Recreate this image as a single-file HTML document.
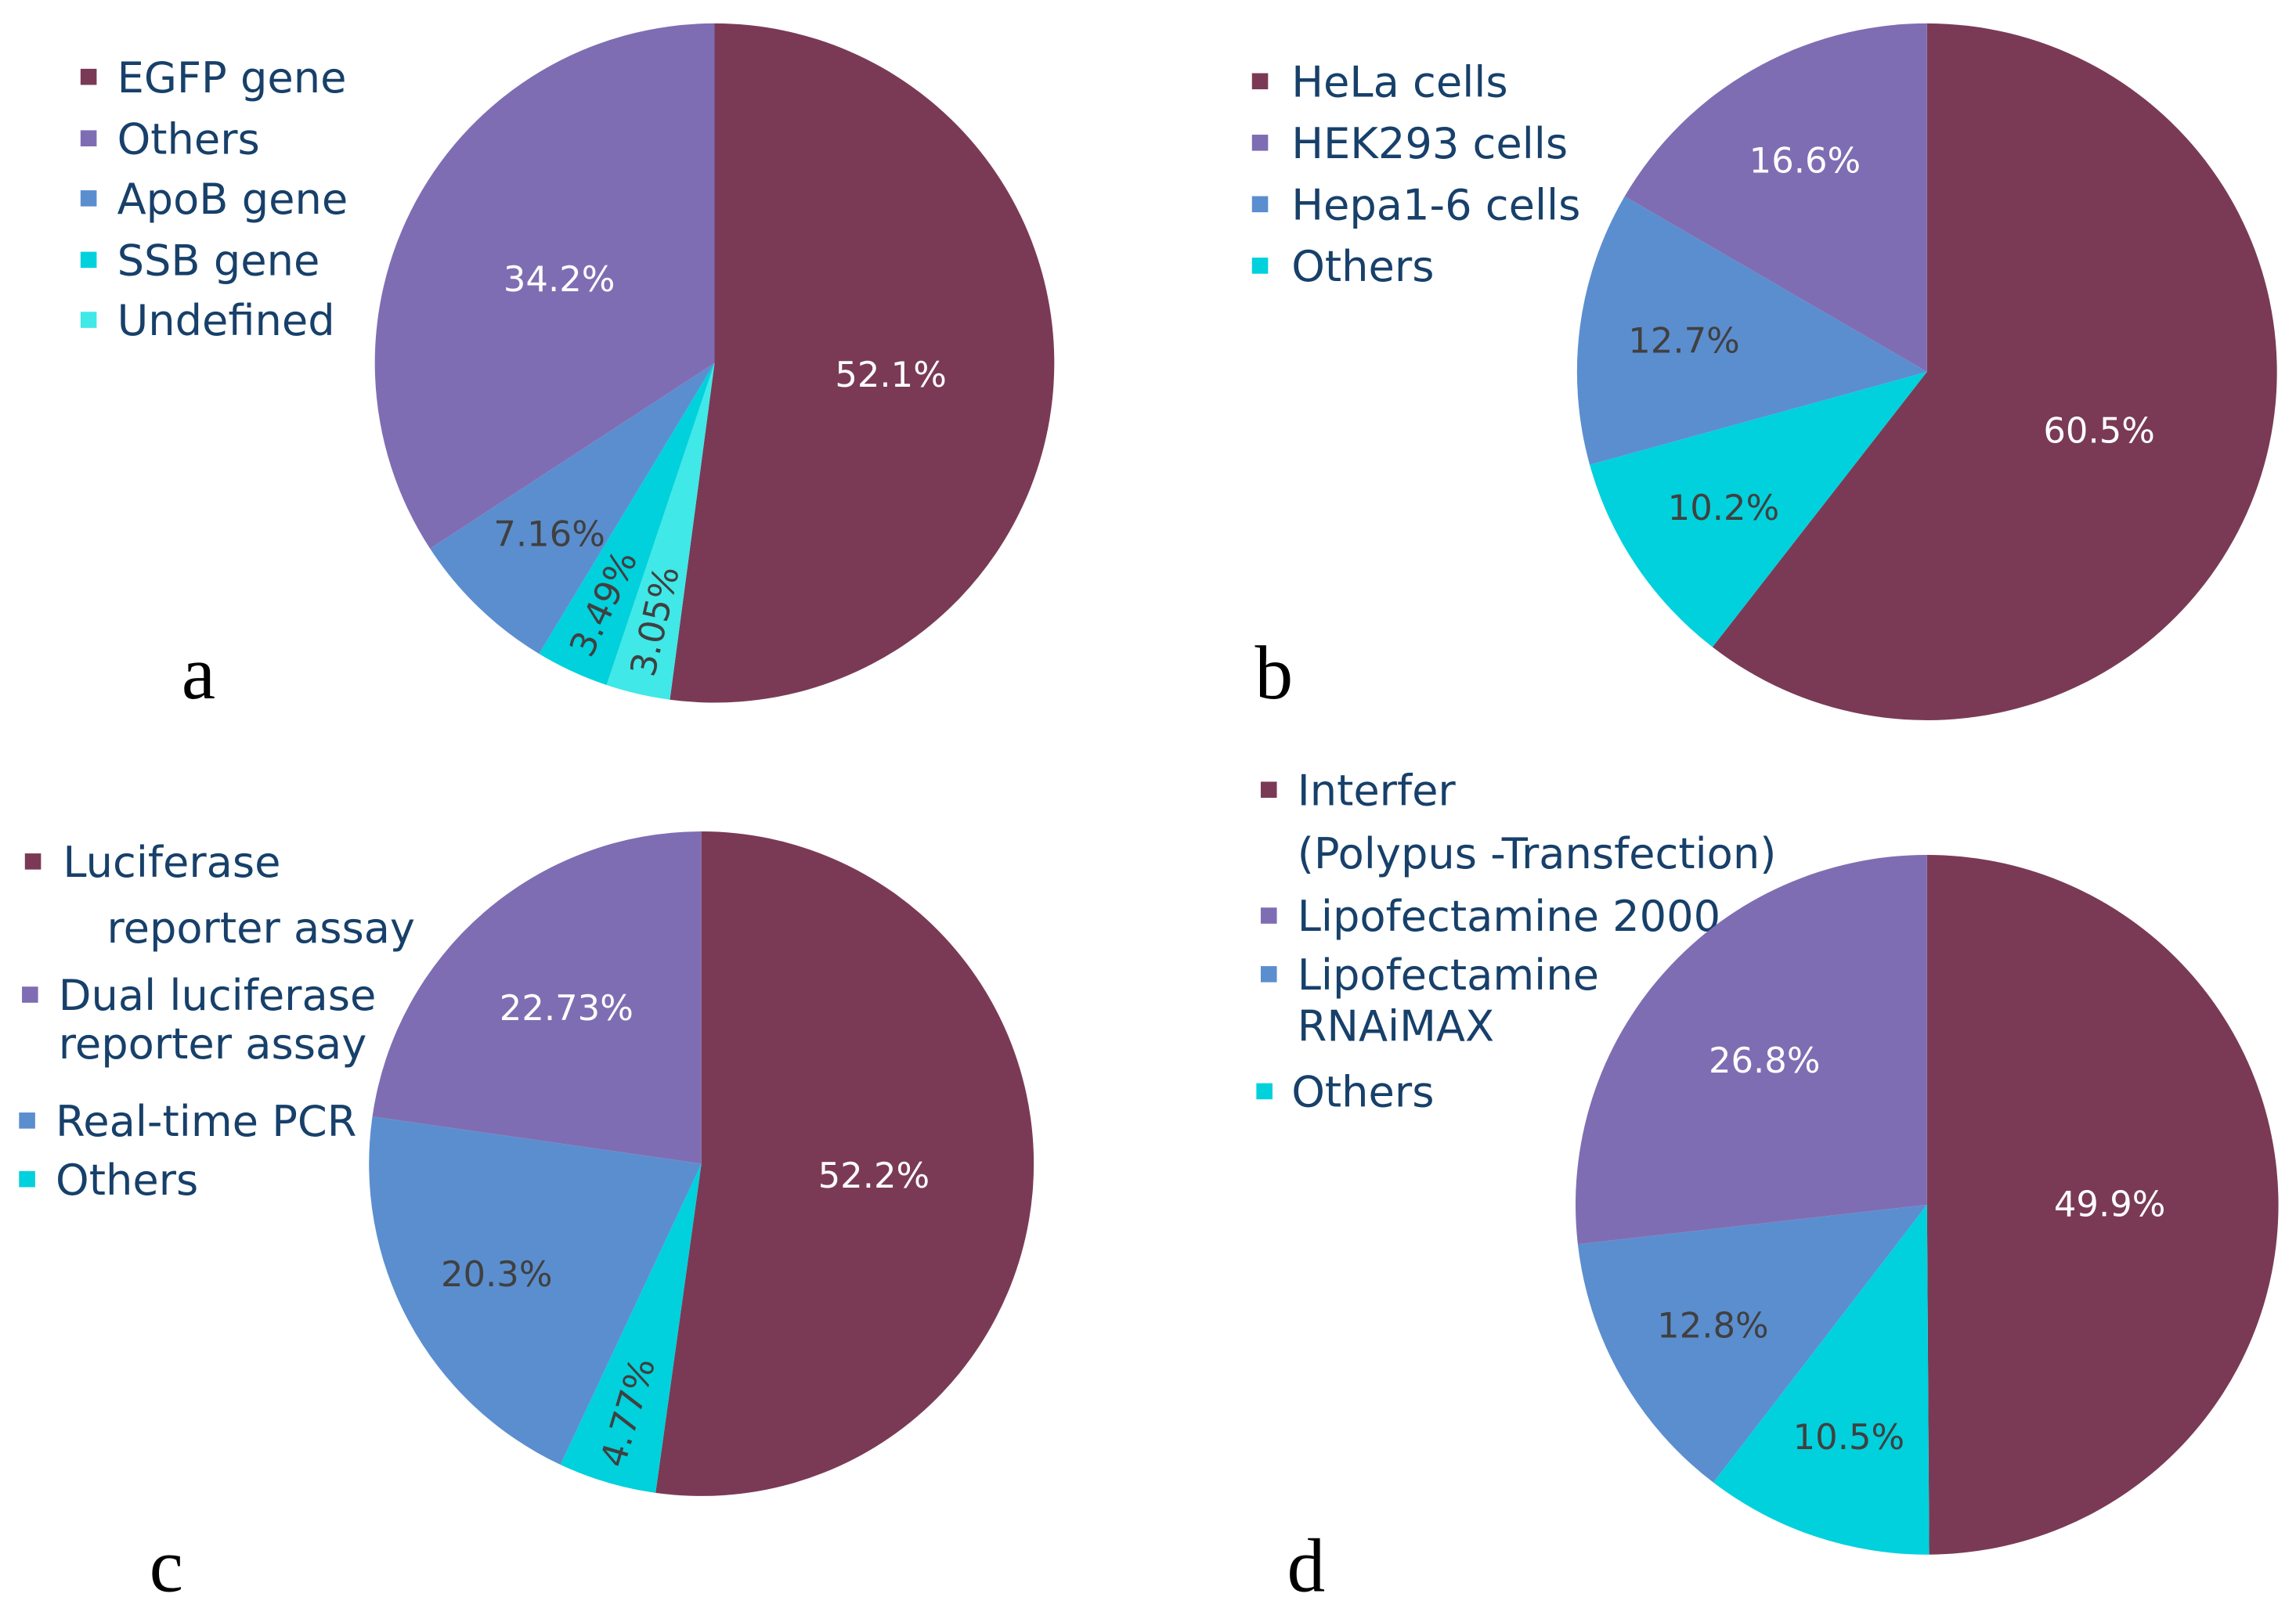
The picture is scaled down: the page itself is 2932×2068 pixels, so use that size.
<!DOCTYPE html>
<html><head><meta charset="utf-8"><style>
html,body{margin:0;padding:0;background:#fff;}
svg{display:block;}
</style></head><body>
<svg id="fig" xmlns="http://www.w3.org/2000/svg" width="2932" height="2068" viewBox="0 0 1568 1106" preserveAspectRatio="none" font-family="'DejaVu Sans', 'Liberation Sans', sans-serif">
<rect width="1568" height="1106" fill="#fff"/>
<g id="legends" fill="#17406a" font-size="29">
 <g>
  <rect x="55" y="47" width="11" height="11" fill="#7a3a55"/><text x="80" y="63">EGFP gene</text>
  <rect x="55" y="89" width="11" height="11" fill="#7f6db3"/><text x="80" y="105">Others</text>
  <rect x="55" y="130" width="11" height="11" fill="#5b8ecf"/><text x="80" y="146">ApoB gene</text>
  <rect x="55" y="172" width="11" height="11" fill="#00d1dc"/><text x="80" y="188">SSB gene</text>
  <rect x="55" y="213" width="11" height="11" fill="#40e8e8"/><text x="80" y="229">Undefined</text>
 </g>
 <g>
  <rect x="855" y="50" width="11" height="11" fill="#7a3a55"/><text x="882" y="66">HeLa cells</text>
  <rect x="855" y="92" width="11" height="11" fill="#7f6db3"/><text x="882" y="108">HEK293 cells</text>
  <rect x="855" y="134" width="11" height="11" fill="#5b8ecf"/><text x="882" y="150">Hepa1-6 cells</text>
  <rect x="855" y="176" width="11" height="11" fill="#00d1dc"/><text x="882" y="192">Others</text>
 </g>
 <g>
  <rect x="17" y="583" width="11" height="11" fill="#7a3a55"/><text x="43" y="599">Luciferase</text>
  <text x="73" y="644">reporter assay</text>
  <rect x="15" y="674" width="11" height="11" fill="#7f6db3"/><text x="40" y="690">Dual luciferase</text>
  <text x="40" y="723">reporter assay</text>
  <rect x="13" y="760" width="11" height="11" fill="#5b8ecf"/><text x="38" y="776">Real-time PCR</text>
  <rect x="13" y="800" width="11" height="11" fill="#00d1dc"/><text x="38" y="816">Others</text>
 </g>
 <g>
  <rect x="861" y="534" width="11" height="11" fill="#7a3a55"/><text x="886" y="550">Interfer</text>
  <text x="886" y="593">(Polypus -Transfection)</text>
  <rect x="861" y="620" width="11" height="11" fill="#7f6db3"/><text x="886" y="636">Lipofectamine 2000</text>
  <rect x="861" y="660" width="11" height="11" fill="#5b8ecf"/><text x="886" y="676">Lipofectamine</text>
  <text x="886" y="711">RNAiMAX</text>
  <rect x="858" y="740" width="11" height="11" fill="#00d1dc"/><text x="882" y="756">Others</text>
 </g>
</g>
<g font-family="'Liberation Serif', serif" font-size="52" fill="#000">
 <text x="124" y="477">a</text>
 <text x="857" y="477">b</text>
 <text x="102" y="1087">c</text>
 <text x="879" y="1087">d</text>
</g>
<g id="pies"></g>
</svg>
<script>
// Panel a
const aCategories = ["EGFP gene","Undefined","SSB gene","ApoB gene","Others"];
const aValues = [52.1, 3.05, 3.49, 7.16, 34.2];
const aLabels = ["52.1%","3.05%","3.49%","7.16%","34.2%"];
// Panel b
const bCategories = ["HeLa cells","Others","Hepa1-6 cells","HEK293 cells"];
const bValues = [60.5, 10.2, 12.7, 16.6];
const bLabels = ["60.5%","10.2%","12.7%","16.6%"];
// Panel c
const cCategories = ["Luciferase reporter assay","Others","Real-time PCR","Dual luciferase reporter assay"];
const cValues = [52.2, 4.77, 20.3, 22.73];
const cLabels = ["52.2%","4.77%","20.3%","22.73%"];
// Panel d
const dCategories = ["Interfer","Others","Lipofectamine RNAiMAX","Lipofectamine 2000"];
const dValues = [49.9, 10.5, 12.8, 26.8];
const dLabels = ["49.9%","10.5%","12.8%","26.8%"];

const NS = "http://www.w3.org/2000/svg";
const colorMap = {"EGFP gene":"#7a3a55","HeLa cells":"#7a3a55","Luciferase reporter assay":"#7a3a55","Interfer":"#7a3a55",
 "Others":"#7f6db3","HEK293 cells":"#7f6db3","Dual luciferase reporter assay":"#7f6db3","Lipofectamine 2000":"#7f6db3",
 "ApoB gene":"#5b8ecf","Hepa1-6 cells":"#5b8ecf","Real-time PCR":"#5b8ecf","Lipofectamine RNAiMAX":"#5b8ecf",
 "SSB gene":"#00d1dc","Undefined":"#40e8e8"};
function colorFor(panel, cat){
  if (cat === "Others" && panel !== "a") return "#00d1dc";
  return colorMap[cat];
}
function drawPie(panel, cats, vals, labels, cx, cy, rx, ry){
  const g = document.createElementNS(NS, "g");
  
  
  document.getElementById('pies').appendChild(g);
  const total = vals.reduce((s,v)=>s+v,0);
  let acc = 0;
  const pt = (frac, k) => {
    const ang = frac * 2 * Math.PI;
    return [cx + rx * k * Math.sin(ang), cy - ry * k * Math.cos(ang)];
  };
  vals.forEach((v, i) => {
    const f0 = acc / total, f1 = (acc + v) / total;
    acc += v;
    const p0 = pt(f0, 1), p1 = pt(f1, 1);
    const large = (f1 - f0) > 0.5 ? 1 : 0;
    const path = document.createElementNS(NS, "path");
    path.setAttribute('d', `M${cx},${cy} L${p0[0]},${p0[1]} A${rx},${ry} 0 ${large} 1 ${p1[0]},${p1[1]} Z`);
    path.setAttribute('fill', colorFor(panel, cats[i]));
    
    
    g.appendChild(path);
    const fm = (f0 + f1) / 2;
    const small = v < 6;
    const k = small ? 0.78 : (v < 22 ? 0.7 : (v < 30 ? 0.62 : 0.52));
    const lp = pt(fm, k);
    const t = document.createElementNS(NS, "text");
    t.textContent = labels[i];
    t.setAttribute('x', lp[0]); t.setAttribute('y', lp[1]);
    t.setAttribute('text-anchor', 'middle');
    t.setAttribute('dominant-baseline', 'central');
    t.setAttribute('font-size', '24');
    const c = colorFor(panel, cats[i]);
    t.setAttribute('fill', (c === "#7a3a55" || c === "#7f6db3") ? "#ffffff" : "#404040");
    if (small) {
      const deg = fm * 360 - 270;
      t.setAttribute('transform', `rotate(${deg} ${lp[0]} ${lp[1]})`);
    }
    
    
    g.appendChild(t);
  });
}
drawPie('a', aCategories, aValues, aLabels, 488, 248, 232, 232);
drawPie('b', bCategories, bValues, bLabels, 1316, 254, 239, 238);
drawPie('c', cCategories, cValues, cLabels, 479, 795, 227, 227);
drawPie('d', dCategories, dValues, dLabels, 1316, 823, 240, 239);
</script>
</body></html>
